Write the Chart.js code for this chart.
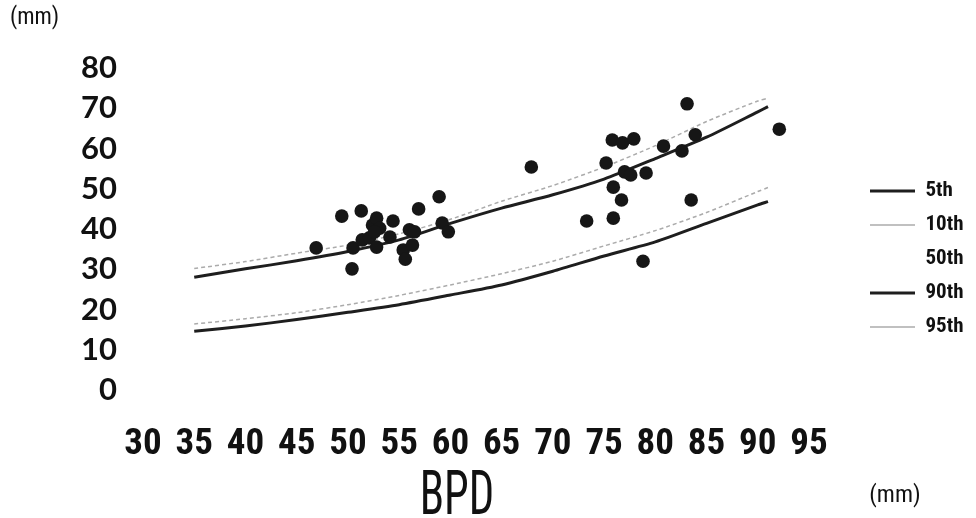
<!DOCTYPE html>
<html><head><meta charset="utf-8">
<script src="https://cdn.jsdelivr.net/npm/chart.js@4"></script>
<style>html,body{margin:0;padding:0;background:#fff}</style>
</head><body>
<canvas id="c" width="976" height="518"></canvas>
<script>
// ---- data ----
const bpdGrid = [35, 40, 45, 50, 55, 60, 65, 70, 75, 80, 85, 90, 91];
const p5  = [14.6, 15.9, 17.5, 19.3, 21.2, 23.6, 26.1, 29.5, 33.3, 36.8, 41.4, 46.0, 46.8];
const p10 = [16.4, 17.7, 19.2, 21.2, 23.5, 26.1, 28.9, 32.0, 35.8, 39.6, 44.1, 49.3, 50.3];
const p50 = [];
const p90 = [28.0, 30.1, 32.1, 34.4, 37.3, 41.4, 45.2, 48.5, 52.4, 57.5, 62.8, 69.1, 70.4];
const p95 = [30.2, 31.9, 34.0, 36.0, 38.8, 42.4, 46.9, 50.8, 55.4, 60.7, 66.7, 71.8, 72.5];
const seriesNames = ['5th', '10th', '50th', '90th', '95th'];

const pointBPD = [46.9, 49.4, 51.3, 50.4, 50.5, 51.4, 52.1, 52.4, 52.8, 53.1, 52.6, 52.8, 54.1, 54.4, 56.0, 56.5, 55.4, 56.3, 55.6, 56.9, 58.9, 59.2, 59.8,
                  67.9, 75.8, 76.8, 77.9, 75.2, 77.0, 77.6, 79.1, 75.9, 76.7, 80.8, 82.6, 83.9, 83.1, 92.1, 83.5, 73.3, 75.9, 78.8];
const pointVal = [35.3, 43.2, 44.5, 30.1, 35.3, 37.3, 37.8, 41.0, 42.7, 40.2, 39.3, 35.5, 38.0, 42.0, 39.8, 39.3, 34.8, 36.0, 32.5, 45.0, 48.0, 41.5, 39.3,
                  55.4, 62.1, 61.4, 62.4, 56.4, 54.2, 53.4, 53.9, 50.4, 47.2, 60.6, 59.4, 63.4, 71.1, 64.8, 47.2, 42.0, 42.7, 32.0];

const xTicks = [30, 35, 40, 45, 50, 55, 60, 65, 70, 75, 80, 85, 90, 95];
const yTicks = [0, 10, 20, 30, 40, 50, 60, 70, 80];
const xTitle = 'BPD';
const yUnit = '(mm)';
const xUnit = '(mm)';

// ---- build ----
const toXY = arr => arr.map((v, i) => ({x: bpdGrid[i], y: v}));
const scatterPts = pointBPD.map((b, i) => ({x: b, y: pointVal[i]}));

const dark = '#1e1e1e';
const light = '#ababab';
const lineSets = [
  {label: seriesNames[0], data: toXY(p5),  borderColor: dark,  borderWidth: 3,   borderDash: []},
  {label: seriesNames[1], data: toXY(p10), borderColor: light, borderWidth: 1.5, borderDash: [4, 3]},
  {label: seriesNames[2], data: toXY(p50), borderColor: '#ffffff', borderWidth: 0, borderDash: []},
  {label: seriesNames[3], data: toXY(p90), borderColor: dark,  borderWidth: 3,   borderDash: []},
  {label: seriesNames[4], data: toXY(p95), borderColor: light, borderWidth: 1.5, borderDash: [4, 3]}
].map(d => Object.assign(d, {type: 'line', pointRadius: 0, fill: false, tension: 0.25, backgroundColor: d.borderColor, order: 1}));

const pointSet = {
  type: 'scatter', label: 'measured', data: scatterPts,
  pointRadius: 6.8, pointBackgroundColor: '#161616', pointBorderWidth: 0, backgroundColor: '#161616', order: 0
};

const condensed = '"Roboto Condensed", "Liberation Sans Narrow", sans-serif';

const layoutTweaks = {
  id: 'layoutTweaks',
  afterLayout(chart) {
    // move the legend column to the right edge as in the reference
    const lg = chart.legend;
    if (lg) { lg.left = 857; lg.right = lg.left + lg.width; }
    // draw the x-axis title in a narrower (compressed) face
    const sx = chart.scales.x;
    if (sx && !sx._titleWrapped) {
      const orig = sx.drawTitle.bind(sx);
      sx.drawTitle = function () {
        const ctx = this.ctx;
        const cx = (this.left + this.right) / 2;
        ctx.save();
        ctx.translate(cx - 19, 0);
        ctx.scale(0.72, 1);
        ctx.translate(-cx, 0);
        orig();
        ctx.restore();
      };
      sx._titleWrapped = true;
    }
  },
  afterDraw(chart) {
    const ctx = chart.ctx;
    ctx.save();
    ctx.font = '24px ' + condensed;
    ctx.fillStyle = '#111';
    ctx.textAlign = 'center';
    ctx.textBaseline = 'middle';
    ctx.fillText(xUnit, chart.width - 81, chart.height - 22);
    ctx.restore();
  }
};

new Chart(document.getElementById('c'), {
  type: 'scatter',
  data: {datasets: [...lineSets, pointSet]},
  plugins: [layoutTweaks],
  options: {
    responsive: false,
    animation: false,
    devicePixelRatio: 1,
    layout: {padding: {left: 10, right: 0, top: 0, bottom: 0}},
    plugins: {
      tooltip: {enabled: false},
      title: {
        display: true, text: yUnit, align: 'start', color: '#111',
        font: {family: condensed, size: 23, weight: 'normal', lineHeight: 1.2},
        padding: {top: 4, bottom: 68 - 4 - 27.6}
      },
      legend: {
        position: 'right', align: 'center', fullSize: true,
        labels: {
          usePointStyle: true, pointStyle: 'line', pointStyleWidth: 45, padding: 13,
          color: '#111',
          font: {family: condensed, size: 21, weight: 'bold'},
          filter: item => seriesNames.includes(item.text)
        }
      }
    },
    scales: {
      x: {
        type: 'linear', min: 30, max: 95,
        afterBuildTicks: s => { s.ticks = xTicks.map(v => ({value: v})); },
        afterFit: s => { s.height = 128; s.paddingRight = 976 - 809; },
        grid: {display: false, drawTicks: false},
        border: {display: false},
        ticks: {
          padding: 33, color: '#111', maxRotation: 0, autoSkip: false,
          font: {family: condensed, size: 37, weight: 'bold'}
        },
        title: {
          display: true, text: xTitle, color: '#111',
          font: {family: condensed, size: 62, lineHeight: 0.62},
          padding: {top: 0, bottom: 0}
        }
      },
      y: {
        type: 'linear', min: 0, max: 80,
        afterBuildTicks: s => { s.ticks = yTicks.map(v => ({value: v})); },
        afterFit: s => { s.width = 133; },
        grid: {display: false, drawTicks: false},
        border: {display: false},
        ticks: {
          padding: 26, color: '#111',
          font: {family: 'Lato, "Open Sans", sans-serif', size: 31, weight: 'bold'}
        }
      }
    }
  }
});
</script>
</body></html>
